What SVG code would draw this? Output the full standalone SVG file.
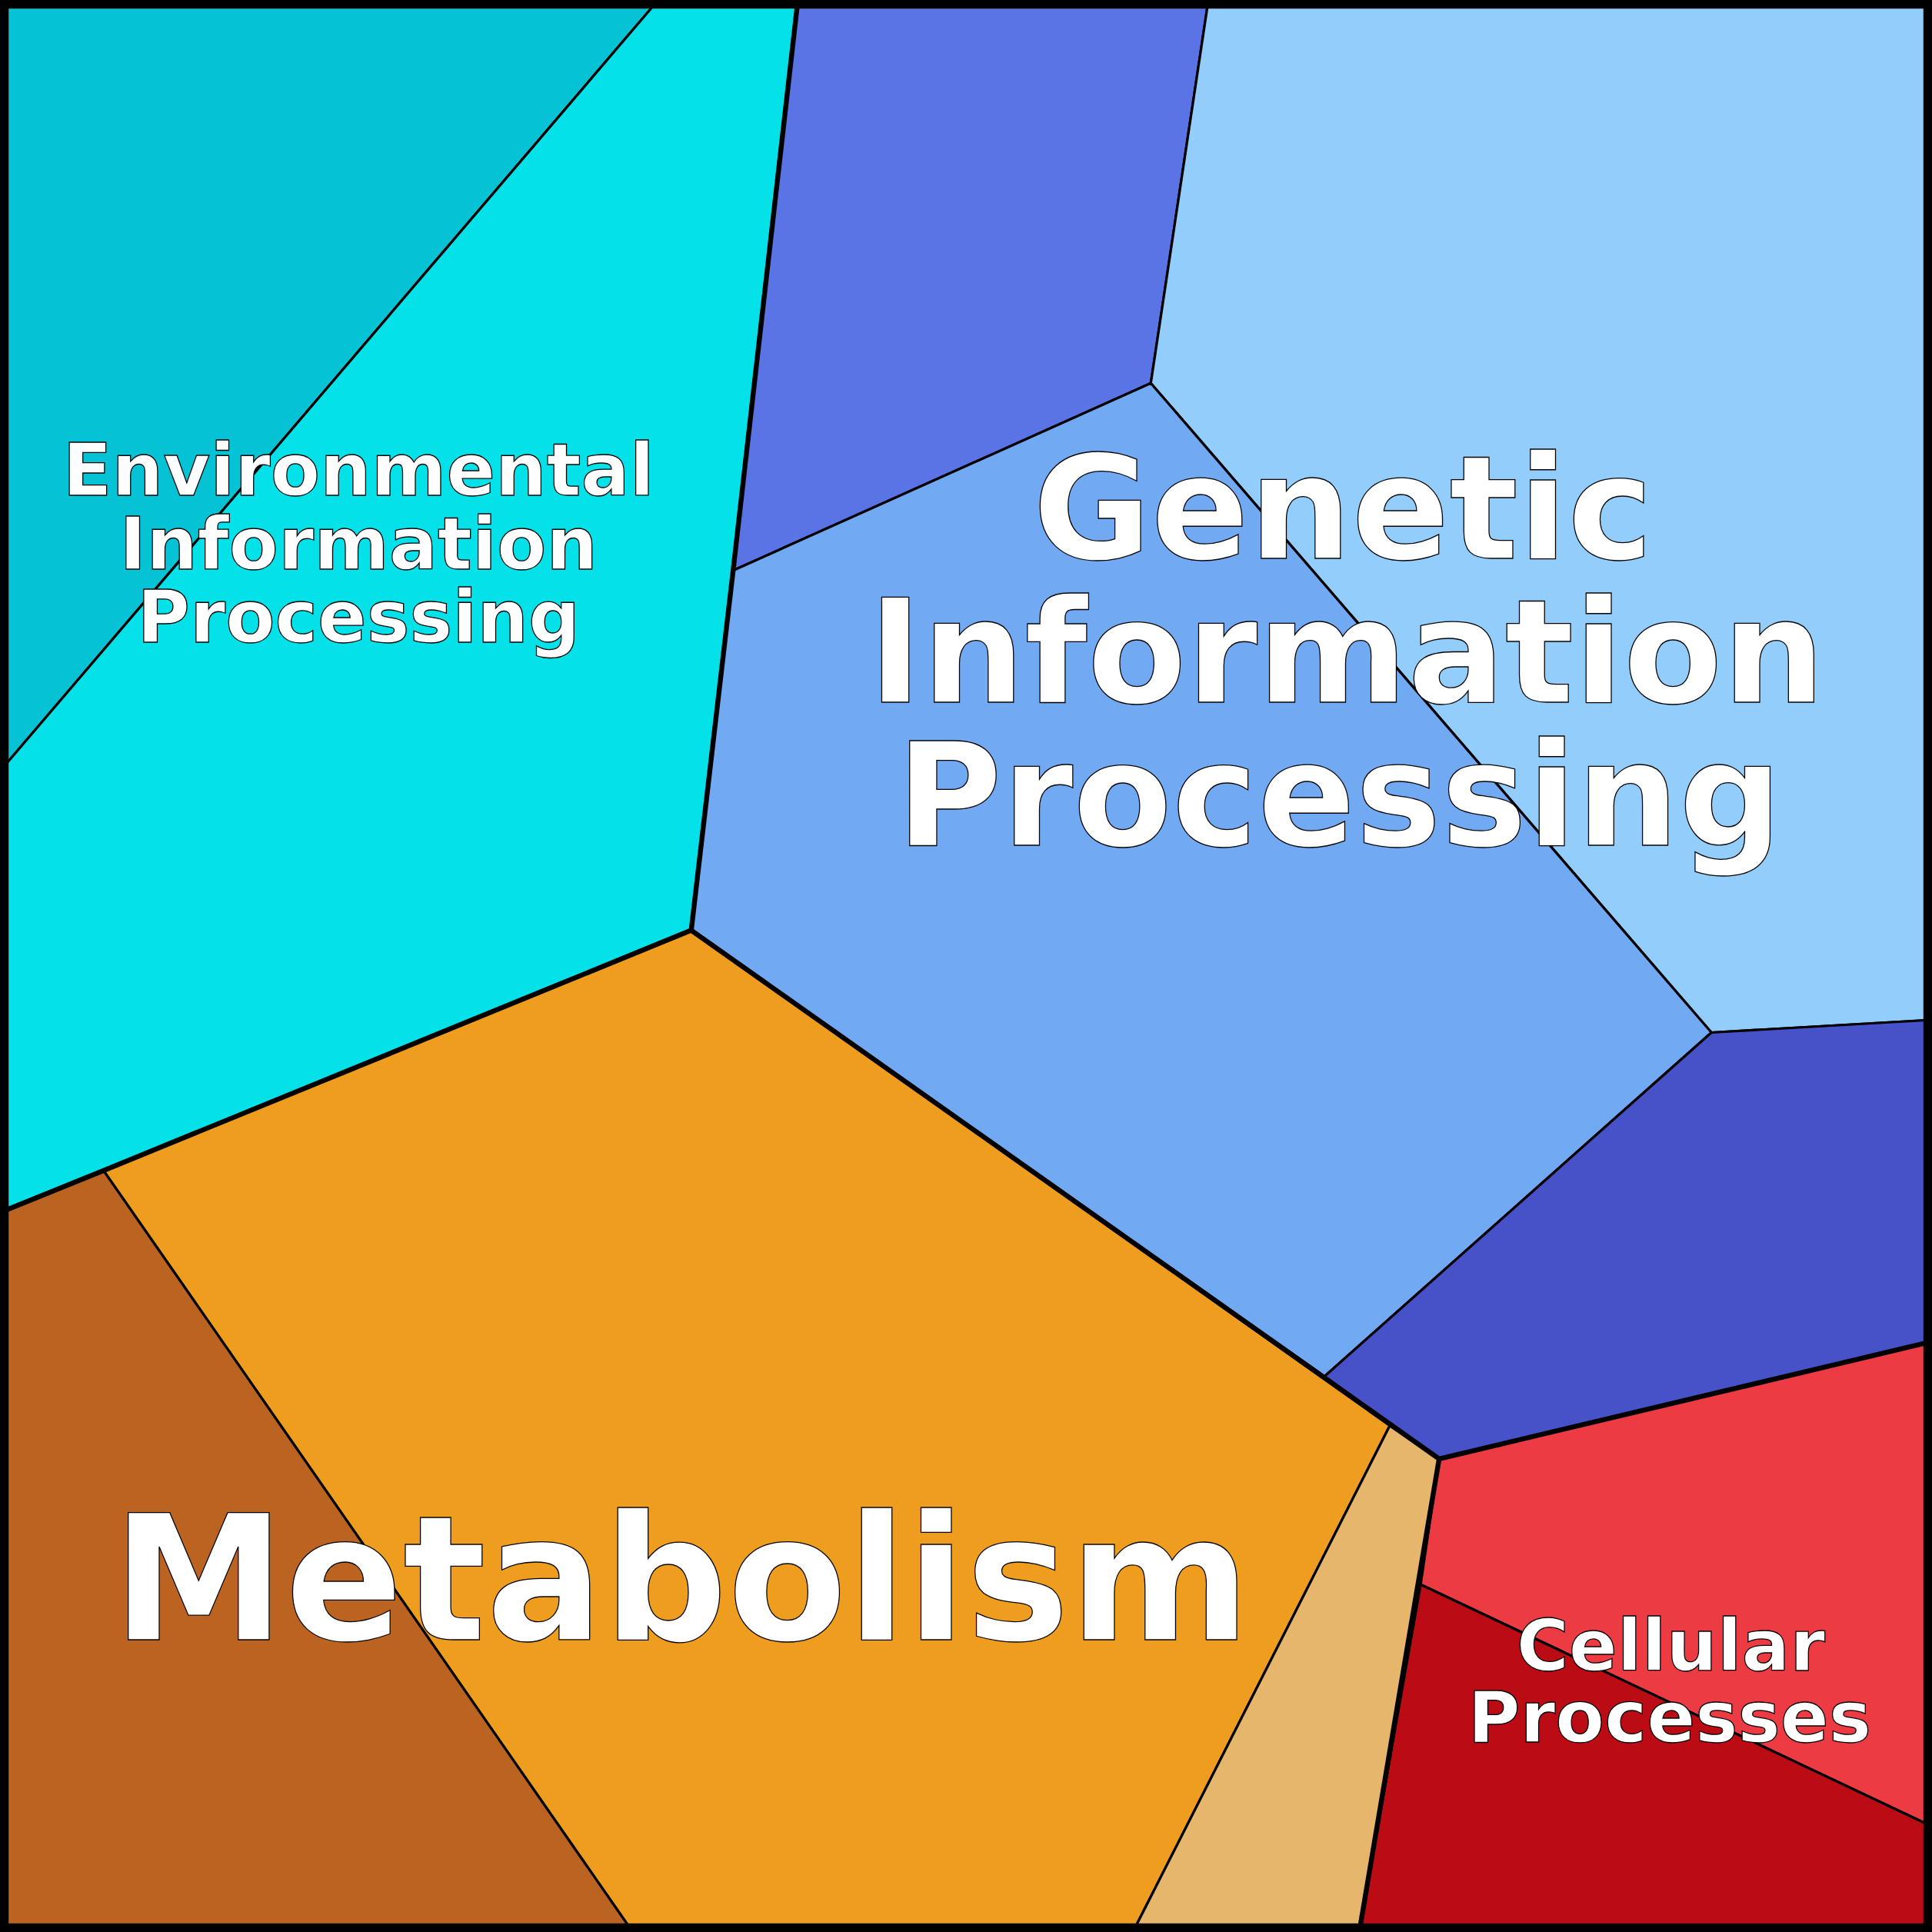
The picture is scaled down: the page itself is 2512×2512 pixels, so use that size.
<svg xmlns="http://www.w3.org/2000/svg" width="2512" height="2512" viewBox="0 0 2512 2512">
<style>
.c{stroke:#000;stroke-width:2;stroke-linejoin:round}
.t{stroke:#000;stroke-width:4;fill:none;stroke-linejoin:round}
text{font-family:"DejaVu Sans",sans-serif;font-weight:bold;fill:#fff;stroke:#000;stroke-width:0.8;text-anchor:middle}
</style>
<g transform="scale(1.60204)">
<g id="cells">
<polygon id="env1" class="c" fill="#05c3d5" points="5,5 530,5 5,620"/>
<polygon id="env2" class="c" fill="#05e1e8" points="530,5 647,5 595,463 561,755 84,950 5,982 5,620"/>
<polygon id="gen1" class="c" fill="#5a74e6" points="647,5 980,5 934,311 595,463"/>
<polygon id="gen2" class="c" fill="#92cdfc" points="980,5 1563,5 1563,828 1389,838 934,311"/>
<polygon id="gen3" class="c" fill="#72a9f3" points="595,463 934,311 1389,838 1075,1117 561,755"/>
<polygon id="gen4" class="c" fill="#4852c8" points="1389,838 1563,828 1563,1090 1168,1184 1075,1117"/>
<polygon id="met1" class="c" fill="#ee9d1e" points="561,755 1128,1157 922,1563 510,1563 84,950"/>
<polygon id="met2" class="c" fill="#bb6422" points="5,982 84,950 510,1563 5,1563"/>
<polygon id="met3" class="c" fill="#e6b66d" points="1128,1157 1168,1184 1104,1563 922,1563"/>
<polygon id="cel1" class="c" fill="#ec3b43" points="1168,1184 1563,1090 1563,1480 1153,1286"/>
<polygon id="cel2" class="c" fill="#bb0c16" points="1153,1286 1563,1480 1563,1563 1104,1563"/>
</g>
<g id="boundaries">
<polyline class="t" points="647,5 595,463 561,755 84,950 5,982"/>
<polyline class="t" points="561,755 1168,1184 1563,1090"/>
<polyline class="t" points="1168,1184 1104,1563"/>
<rect x="3.5" y="3.5" width="1561" height="1561" fill="none" stroke="#000" stroke-width="7"/>
</g>
<g id="labels">
<text font-size="58.5" x="291" y="402">Environmental</text>
<text font-size="58.5" x="291" y="462">Information</text>
<text font-size="58.5" x="291" y="521">Processing</text>
<text font-size="117" x="1090" y="453">Genetic</text>
<text font-size="117" x="1093" y="570">Information</text>
<text font-size="117" x="1087" y="686">Processing</text>
<text font-size="141" x="553" y="1331">Metabolism</text>
<text font-size="58" x="1356" y="1356">Cellular</text>
<text font-size="58" x="1355" y="1414">Processes</text>
</g>
</g>
</svg>
